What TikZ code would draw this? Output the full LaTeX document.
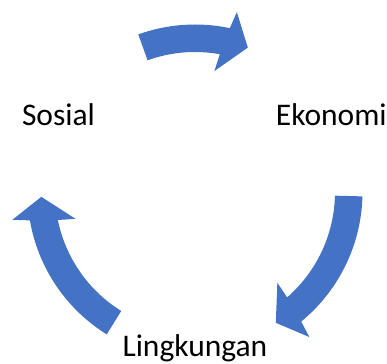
\documentclass[tikz,border=0pt]{standalone}
\usepackage{fontspec}
\setmainfont{Carlito}
\usetikzlibrary{calc}
\definecolor{cycblue}{HTML}{4472C4}
\tikzset{
  cycfill/.style={fill=cycblue, draw=none},
  cyclabel/.style={inner sep=0pt, anchor=base, font=\fontsize{31.5}{36}\selectfont, text=black}
}
% #1 tail angle, #2 head base angle, #3 tip angle (clockwise arrows around C)
\newcommand\CycArrow[3]{%
  \fill[cycfill] ($(C)+(#1:167.5)$)
    arc[start angle=#1, end angle={#2-0.9}, radius=167.5]
    -- ($(C)+({#2-2}:184.7)$)
    -- ($(C)+(#3:153.75)$)
    -- ($(C)+({#2+2}:122.5)$)
    -- ($(C)+({#2+0.9}:140)$)
    arc[start angle={#2+0.9}, end angle=#1, radius=140]
    -- cycle;}
\begin{document}
\begin{tikzpicture}[x=1pt,y=1pt]
\useasboundingbox (0,0) rectangle (387,363);
\coordinate (C) at (195,171);
\CycArrow{109.8}{78.9}{69.9}
\CycArrow{-1.5}{-49.75}{-58.3}
\CycArrow{238.2}{190.65}{181.8}
\node[cyclabel] (sosial) at (58.5,237) {Sosial};
\node[cyclabel] (ekonomi) at (331.3,237) {Ekonomi};
\node[cyclabel] (lingkungan) at (194.9,6) {Lingkungan};
\end{tikzpicture}
\end{document}
